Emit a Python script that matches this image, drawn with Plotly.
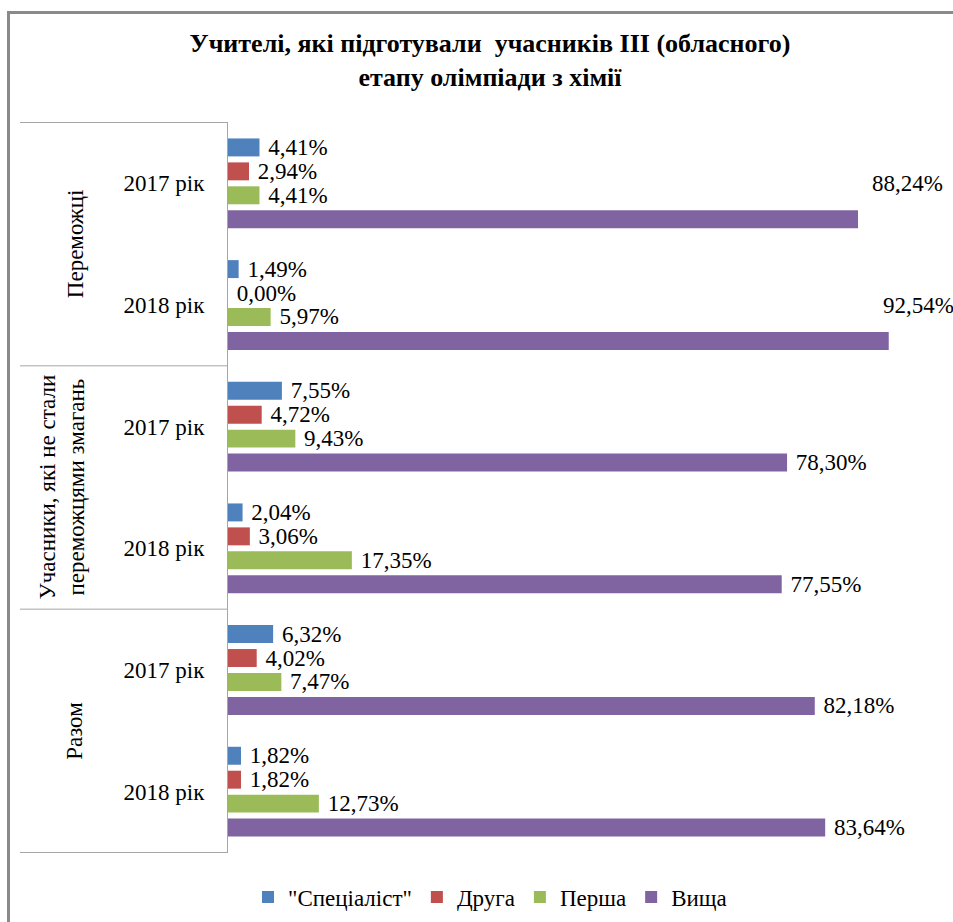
import plotly.graph_objects as go

groups = ["Переможці", "Переможці", "Учасники", "Учасники", "Разом", "Разом"]
years = ["2017 рік", "2018 рік", "2017 рік", "2018 рік", "2017 рік", "2018 рік"]
group_titles = ["Переможці", "Учасники, які не стали<br>переможцями змагань", "Разом"]

series_names = ['"Спеціаліст"', "Друга", "Перша", "Вища"]
specialist = [4.41, 1.49, 7.55, 2.04, 6.32, 1.82]
druha = [2.94, 0.00, 4.72, 3.06, 4.02, 1.82]
persha = [4.41, 5.97, 9.43, 17.35, 7.47, 12.73]
vyshcha = [88.24, 92.54, 78.30, 77.55, 82.18, 83.64]
colors = ["#4F81BD", "#C0504D", "#9BBB59", "#8064A2"]

raised_labels = [0, 1]  # Вища labels placed above their bars (as in original)
raised_shift = [12, -8]
group_label_px = [75, 62, 75]

FONT = "'Liberation Serif', 'Times New Roman', 'DejaVu Serif', serif"
W, H = 953, 922
L, R, T, B = 228, 11, 122, 69
pw, ph = W - L - R, H - T - B
FS = 23

cats = [f"{g}|{y}" for g, y in zip(groups, years)]


def fmt(v):
    return f"{v:.2f}%".replace(".", ",")


def px_x(p):
    return (p - L) / pw


def px_y(p):
    return (H - B - p) / ph


fig = go.Figure()
all_series = [specialist, druha, persha, vyshcha]
for si, (name, vals, col) in enumerate(zip(series_names, all_series, colors)):
    texts = ["\u00a0" + fmt(v) for v in vals]
    if si == 3:
        texts = ["" if i in raised_labels else t for i, t in enumerate(texts)]
    fig.add_trace(go.Bar(
        y=cats, x=vals, orientation="h", name=name,
        marker=dict(color=col, line=dict(width=0)),
        text=texts, textposition="outside", cliponaxis=False,
        constraintext="none",
        textfont=dict(family=FONT, size=FS, color="black"),
        hoverinfo="skip",
    ))

annotations = []
for i, sh in zip(raised_labels, raised_shift):
    annotations.append(dict(
        x=vyshcha[i], y=cats[i], xref="x", yref="y", text=fmt(vyshcha[i]),
        showarrow=False, xanchor="left", yanchor="middle", xshift=sh,
        font=dict(family=FONT, size=FS, color="black"),
    ))

# group labels (rotated)
centers = [0.5, 2.5, 4.5]
for gt, c, px in zip(group_titles, centers, group_label_px):
    annotations.append(dict(
        x=px_x(px), y=c, xref="paper", yref="y", text=gt,
        showarrow=False, textangle=-90, xanchor="center", yanchor="middle",
        font=dict(family=FONT, size=FS, color="black"),
    ))

shapes = []
for yb in [-0.5, 1.5, 3.5, 5.5]:
    shapes.append(dict(type="line", xref="paper", yref="y",
                       x0=px_x(20), x1=0, y0=yb, y1=yb,
                       line=dict(color="#a6a6a6", width=1)))
# outer chart border (top and left edges visible)
shapes.append(dict(type="rect", xref="paper", yref="paper", layer="above",
                   x0=px_x(7), x1=px_x(W + 2), y0=px_y(11), y1=px_y(14),
                   fillcolor="#8a8a8a", line=dict(width=0)))
shapes.append(dict(type="rect", xref="paper", yref="paper", layer="above",
                   x0=px_x(7), x1=px_x(10), y0=px_y(11), y1=px_y(H + 2),
                   fillcolor="#8a8a8a", line=dict(width=0)))

fig.update_layout(
    width=W, height=H,
    margin=dict(l=L, r=R, t=T, b=B, autoexpand=False),
    paper_bgcolor="white", plot_bgcolor="white",
    barmode="group", bargap=0.213, bargroupgap=0.25,
    title=dict(text="Учителі, які підготували  учасників ІІІ (обласного)<br>етапу олімпіади з хімії",
               x=490 / W, xanchor="center", y=1 - 52 / H, yanchor="middle",
               font=dict(family=FONT, size=26, color="black", weight="bold")),
    xaxis=dict(range=[0, 100], visible=False, fixedrange=True),
    yaxis=dict(type="category", categoryorder="array", categoryarray=cats,
               autorange="reversed", tickvals=cats, ticktext=years,
               showline=True, linecolor="#a6a6a6", linewidth=1,
               showgrid=False, ticks="", ticklabelstandoff=18, automargin=False,
               fixedrange=True,
               tickfont=dict(family=FONT, size=FS, color="black")),
    legend=dict(orientation="h", x=px_x(490), xanchor="center",
                y=px_y(897), yanchor="middle",
                font=dict(family=FONT, size=FS, color="black"),
                itemwidth=30, traceorder="normal"),
    annotations=annotations, shapes=shapes,
    showlegend=True,
)

fig.write_html("out.html", config={"displayModeBar": False},
               post_script="document.body.style.margin='0px';document.body.style.overflow='hidden';")
